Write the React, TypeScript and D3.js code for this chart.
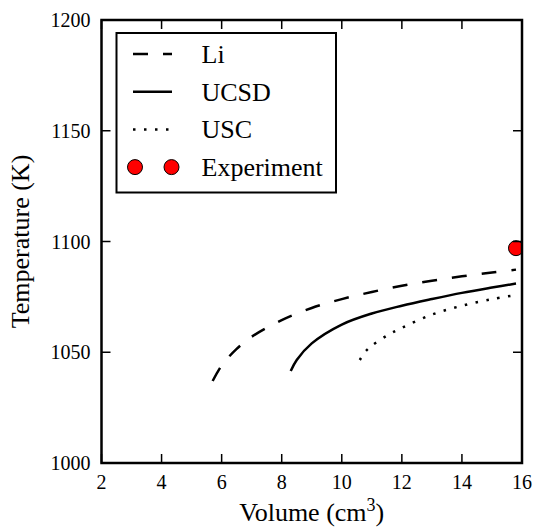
import React from "react";
import * as d3 from "d3";

// Li model (dashed)
const liVolume = [5.7, 6.0, 6.5, 7.0, 8.0, 9.0, 10.0, 11.0, 12.0, 13.0, 14.0, 15.0, 15.8];
const liTemp = [1037, 1044, 1051.5, 1057, 1064.5, 1070, 1074, 1077.2, 1080, 1082.3, 1084.3, 1086, 1087.3];

// UCSD model (solid)
const ucsdVolume = [8.3, 8.5, 9.0, 10.0, 11.0, 12.0, 13.0, 14.0, 15.0, 15.8];
const ucsdTemp = [1041.5, 1046.5, 1054, 1062.5, 1067.5, 1071, 1074, 1076.8, 1079.2, 1081];

// USC model (dotted)
const uscVolume = [10.6, 10.8, 11.0, 11.5, 12.0, 13.0, 14.0, 15.0, 15.8];
const uscTemp = [1046.5, 1050.5, 1053, 1057.5, 1061, 1067, 1071, 1074, 1075.8];

// Experiment
const expVolume = [15.8];
const expTemp = [1097];

const xTicks = [2, 4, 6, 8, 10, 12, 14, 16];
const yTicks = [1000, 1050, 1100, 1150, 1200];

const legendLabels = ["Li", "UCSD", "USC", "Experiment"];

const W = 537;
const H = 531;
const serif = { fontFamily: '"Liberation Serif"' };

const margin = { top: 20, right: 15, bottom: 68, left: 101.5 };
const width = W - margin.left - margin.right;
const height = H - margin.top - margin.bottom;

const x = d3.scaleLinear().domain([2, 16]).range([0, width]);
const y = d3.scaleLinear().domain([1000, 1200]).range([height, 0]);

const line = d3
  .line<[number, number]>()
  .x((d) => x(d[0]))
  .y((d) => y(d[1]))
  .curve(d3.curveCatmullRom);

const zip = (a: number[], b: number[]) =>
  a.map((v, i) => [v, b[i]] as [number, number]);

const series = [
  { pts: zip(liVolume, liTemp), dash: "15 15" },
  { pts: zip(ucsdVolume, ucsdTemp), dash: undefined },
  { pts: zip(uscVolume, uscTemp), dash: "2.5 8.5" },
];

const tickLen = 9;
const rowY = (i: number) => 54 + i * 37.7;

const App = () => {
  return (
    <svg width={W} height={H} style={{ position: "absolute", left: 0, top: 0 }}>
      <rect width={W} height={H} fill="#fff" />
      <defs>
        <clipPath id="plotclip">
          <rect width={width} height={height} />
        </clipPath>
      </defs>
      <g transform={`translate(${margin.left},${margin.top})`}>
        <g clipPath="url(#plotclip)">
          {series.map((s, i) => (
            <path
              key={i}
              d={line(s.pts) || ""}
              fill="none"
              stroke="#000"
              strokeWidth={2.5}
              strokeDasharray={s.dash}
            />
          ))}
          {zip(expVolume, expTemp).map((d, i) => (
            <circle
              key={i}
              cx={x(d[0])}
              cy={y(d[1])}
              r={7.5}
              fill="#ff0000"
              stroke="#000"
              strokeWidth={1}
            />
          ))}
        </g>

        {/* ticks, inward on all four sides */}
        {xTicks.map((t) => (
          <g key={`x${t}`}>
            <line x1={x(t)} x2={x(t)} y1={height} y2={height - tickLen} stroke="#000" strokeWidth={1.5} />
            <line x1={x(t)} x2={x(t)} y1={0} y2={tickLen} stroke="#000" strokeWidth={1.5} />
            <text x={x(t)} y={height + 26} textAnchor="middle" fontSize={20} style={serif}>
              {t}
            </text>
          </g>
        ))}
        {yTicks.map((t) => (
          <g key={`y${t}`}>
            <line x1={0} x2={tickLen} y1={y(t)} y2={y(t)} stroke="#000" strokeWidth={1.5} />
            <line x1={width} x2={width - tickLen} y1={y(t)} y2={y(t)} stroke="#000" strokeWidth={1.5} />
            <text x={-11} y={y(t) + 7} textAnchor="end" fontSize={20} style={serif}>
              {t}
            </text>
          </g>
        ))}

        <rect width={width} height={height} fill="none" stroke="#000" strokeWidth={2.5} />

        <text x={width / 2} y={height + 58} textAnchor="middle" fontSize={26} style={serif}>
          <tspan>Volume (cm</tspan>
          <tspan dy={-10} fontSize={18}>3</tspan>
          <tspan dy={10}>)</tspan>
        </text>
        <text
          transform={`translate(${-73},${height / 2}) rotate(-90)`}
          textAnchor="middle"
          fontSize={26}
          style={serif}
        >
          Temperature (K)
        </text>
      </g>

      {/* legend */}
      <g>
        <rect x={116.5} y={33} width={219.5} height={159.5} fill="#fff" stroke="#000" strokeWidth={2} />
        {series.map((s, i) => (
          <line
            key={i}
            x1={133}
            x2={172}
            y1={rowY(i)}
            y2={rowY(i)}
            stroke="#000"
            strokeWidth={2.5}
            strokeDasharray={s.dash}
          />
        ))}
        {[135, 171.5].map((cx) => (
          <circle key={cx} cx={cx} cy={rowY(3)} r={7.5} fill="#ff0000" stroke="#000" strokeWidth={1} />
        ))}
        {legendLabels.map((lab, i) => (
          <text key={lab} x={201.5} y={rowY(i) + 9} fontSize={26} style={serif}>
            {lab}
          </text>
        ))}
      </g>
    </svg>
  );
};

export default App;
